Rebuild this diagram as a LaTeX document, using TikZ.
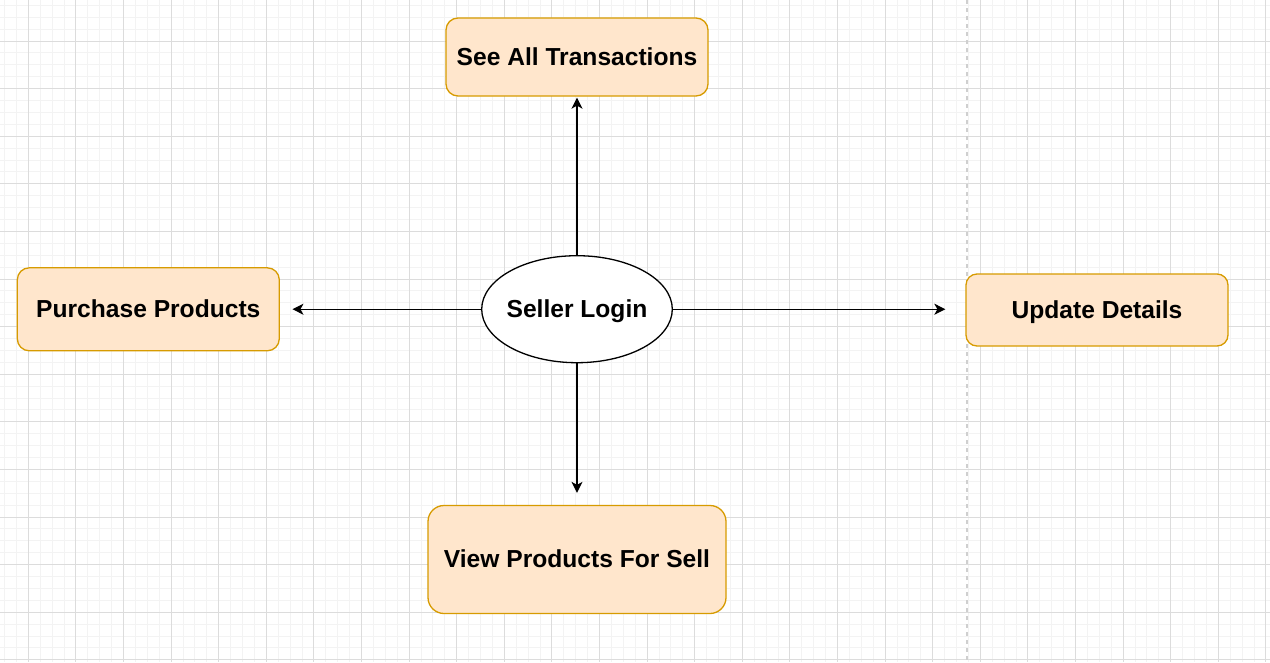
\documentclass[tikz,border=0pt]{standalone}
\usepackage{fontspec}
\setmainfont{Liberation Sans}
\usetikzlibrary{shapes.geometric,arrows.meta}
\definecolor{boxfill}{HTML}{FFE6CC}
\definecolor{boxline}{HTML}{D79B00}
\definecolor{gridminor}{HTML}{F3F3F3}
\definecolor{gridmajor}{HTML}{DCDCDC}
\definecolor{pageline}{HTML}{CFCFCF}
\tikzset{
  minorline/.style={gridminor, line width=1pt},
  majorline/.style={gridmajor, line width=1pt},
  labeltext/.style={font=\fontsize{24.6}{28}\selectfont\bfseries, text=black,
     text height=16pt, text depth=0pt},
  taskbox/.style={labeltext, draw=boxline, fill=boxfill, line width=1.3pt, rectangle, inner sep=0pt},
  loginnode/.style={labeltext, draw=black, fill=white, line width=1.3pt, ellipse,
     inner xsep=-4pt, inner ysep=0pt,
     minimum width=190.6pt, minimum height=107pt},
  conn/.style={draw=black, line width=1.3pt, -{Stealth[length=11pt,width=11pt,inset=3pt]}}
}
\begin{document}
\begin{tikzpicture}[x=1pt,y=-1pt]
\useasboundingbox (0,0) rectangle (1270,662);
\fill[white] (0,0) rectangle (1270,662);
% grid
\foreach \i in {0,...,106} \draw[minorline] ({4.5+11.9*\i},0) -- ({4.5+11.9*\i},662);
\foreach \j in {0,...,55} \draw[minorline] (0,{5.3+11.9*\j}) -- (1270,{5.3+11.9*\j});
\foreach \i in {0,...,26} \draw[majorline] ({28.3+47.6*\i},0) -- ({28.3+47.6*\i},662);
\foreach \j in {0,...,13} \draw[majorline] (0,{41+47.6*\j}) -- (1270,{41+47.6*\j});
% page break line
\coordinate (pbtop) at (966.5,0);
\coordinate (pbbot) at (966.5,662);
\draw[pageline, line width=2pt, dash pattern=on 4pt off 4pt] (pbtop) -- (pbbot);
% nodes
\node[taskbox, minimum width=262pt, minimum height=78pt, rounded corners=12pt] (trans) at (577,57) {See All Transactions};
\node[taskbox, minimum width=262pt, minimum height=83pt, rounded corners=12pt] (purchase) at (148.3,309.3) {Purchase Products};
\node[taskbox, minimum width=262pt, minimum height=72pt, rounded corners=11pt] (update) at (1097,310) {Update Details};
\node[taskbox, minimum width=298pt, minimum height=108pt, rounded corners=16pt] (view) at (577,559.5) {View Products For Sell};
\node[loginnode] (login) at (577,309.2) {Seller Login};
% connectors
\draw[conn, shorten >=1pt] (login.north) -- (trans.south);
\draw[conn, shorten >=12.5pt] (login.west) -- (login.west -| purchase.east);
\draw[conn, shorten >=20pt] (login.east) -- (login.east -| update.west);
\draw[conn, shorten >=12pt] (login.south) -- (view.north);
\end{tikzpicture}
\end{document}
